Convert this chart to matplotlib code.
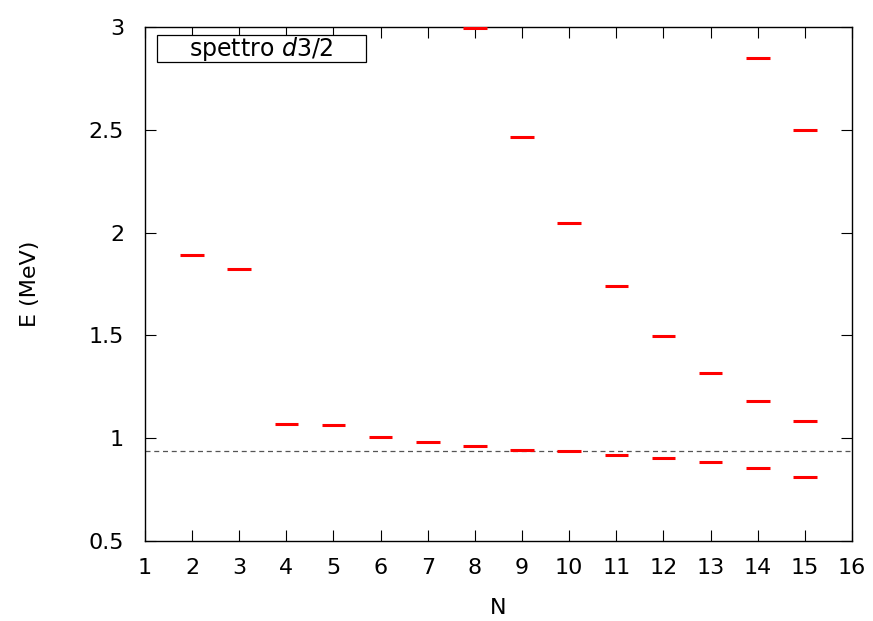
import numpy as np
import matplotlib.pyplot as plt
from matplotlib.patches import Rectangle

# energy levels for each N (MeV)
N = [2, 3, 4, 5, 6, 7, 8, 8, 9, 9, 10, 10, 11, 11, 12, 12, 13, 13,
     14, 14, 14, 15, 15, 15]
E = [1.891, 1.823, 1.069, 1.064, 1.003, 0.979, 0.964, 2.995,
     0.943, 2.465, 0.935, 2.047, 0.918, 1.740, 0.904, 1.495,
     0.882, 1.317, 0.855, 1.181, 2.849, 0.811, 1.084, 2.497]
E_ref = 0.939

plt.rcParams['mathtext.fontset'] = 'dejavusans'
fig = plt.figure(figsize=(8.73, 6.21), dpi=100)
ax = fig.add_axes([0.166, 0.129, 0.810, 0.8275])

ax.errorbar(N, E, xerr=0.25, fmt='none', ecolor='red', elinewidth=2.2,
            capsize=0, zorder=3)
ax.axhline(E_ref, color='#555555', linestyle=(0, (4, 3)), linewidth=0.9)

ax.set_xlim(1, 16)
ax.set_ylim(0.5, 3)
ax.set_xticks(np.arange(1, 17))
ax.set_yticks([0.5, 1, 1.5, 2, 2.5, 3])
ax.set_yticklabels(['0.5', '1', '1.5', '2', '2.5', '3'])
ax.tick_params(direction='in', top=True, right=True, length=8, labelsize=16)
ax.tick_params(axis='x', pad=12)
ax.tick_params(axis='y', pad=15)
for s in ax.spines.values():
    s.set_linewidth(1.0)

ax.set_xlabel('N', fontsize=16, labelpad=15)
ax.set_ylabel('E (MeV)', fontsize=16, labelpad=35)

# key box
ax.add_patch(Rectangle((0.017, 0.932), 0.296, 0.052, transform=ax.transAxes,
                       facecolor='white', edgecolor='black', linewidth=0.9,
                       zorder=4))
ax.text(0.164, 0.958, r'spettro $d3/2$', transform=ax.transAxes,
        fontsize=17, va='center', ha='center', zorder=5)

fig.savefig('out.png', dpi=100)
